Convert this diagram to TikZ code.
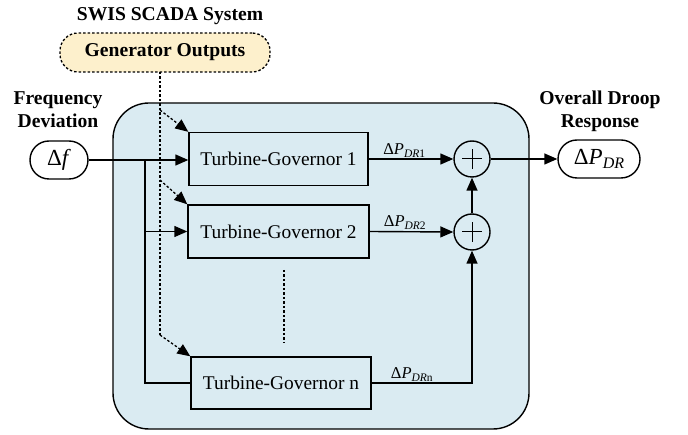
\documentclass[tikz,border=0pt]{standalone}
\usepackage{fontspec}
\setmainfont{Liberation Serif}
\usetikzlibrary{arrows.meta,shapes.misc}
\definecolor{bgblue}{HTML}{DAEBF2}
\definecolor{genyellow}{HTML}{FDF0CC}
\newcommand{\sigsub}[1]{\raisebox{-3pt}{\fontsize{11.5}{12}\selectfont #1}}
\newcommand{\outsub}[1]{\raisebox{-4.5pt}{\fontsize{16}{16}\selectfont #1}}
\begin{document}
\begin{tikzpicture}[x=1pt,y=-1pt,
  line width=1.4pt,
  blk/.style={draw, fill=bgblue, minimum width=180pt, minimum height=53pt, inner sep=0pt, font=\fontsize{19.4}{22}\selectfont},
  sumnode/.style={circle, draw, fill=bgblue, minimum size=36pt, inner sep=0pt,
    path picture={\draw[line width=1pt] ([xshift=-10pt]path picture bounding box.center) -- ([xshift=10pt]path picture bounding box.center)
                   ([yshift=-10pt]path picture bounding box.center) -- ([yshift=10pt]path picture bounding box.center);}},
  term/.style={rounded rectangle, draw, fill=white, minimum height=38pt, inner sep=4pt, font=\fontsize{23}{25}\selectfont},
  title/.style={font=\fontsize{19.6}{23}\selectfont\bfseries, align=center},
  sig/.style={font=\fontsize{16.5}{18}\selectfont, inner sep=1pt},
  arr/.style={-{Triangle[length=13pt,width=11pt]}},
  dsh/.style={dash pattern=on 2.5pt off 2pt, line width=1.3pt},
]
\useasboundingbox (0,0) rectangle (688,435);
% background panel
\draw[fill=bgblue, rounded corners=36pt] (113,103) rectangle (529,429);

% titles
\node[title] (swis) at (170,16) {SWIS SCADA System};
\node[title] (fd) at (58,110) {Frequency\\Deviation};
\node[title] (odr) at (600,111) {Overall Droop\\Response};

% generator outputs
\node[draw, dsh, fill=genyellow, rounded corners=18pt, minimum width=210pt, minimum height=39pt,
      font=\fontsize{19.6}{22}\selectfont\bfseries] (gen) at (165,52.5) {Generator Outputs};

% terminals
\node[term, minimum width=66pt] (df) at (59,160) {Δ\textit{f}};
\node[term, minimum width=90pt] (out) at (599,159) {Δ\textit{P}\outsub{\textit{DR}}};

% blocks
\node[blk, minimum width=179pt] (tg1) at (278.5,159) {Turbine-Governor 1};
\node[blk, minimum width=181pt] (tg2) at (278.5,231.5) {Turbine-Governor 2};
\node[blk, minimum width=180pt, minimum height=52pt] (tgn) at (281,383) {Turbine-Governor n};

% sums
\node[sumnode] (s1) at (472,159) {};
\node[sumnode] (s2) at (472,232) {};

% input distribution
\coordinate (br) at (145,160);
\draw[arr] (df.east) -- (tg1.west |- df.east);
\draw (br) |- (tgn.west);
\draw[arr] (br |- tg2.west) -- (tg2.west);

% generator output signals
\coordinate (gx) at (160,72);
\coordinate (g1) at (160,110);
\coordinate (g2) at (160,180);
\coordinate (gn) at (160,335);
\draw[dsh] (gx) -- (gn);
\draw[dsh, arr] (g1) -- (tg1.north west);
\draw[dsh, arr] (g2) -- (tg2.north west);
\draw[dsh, arr] (gn) -- (tgn.north west);

% ellipsis between blocks
\coordinate (e1) at (284,270);
\coordinate (e2) at (284,343);
\draw[dsh] (e1) -- (e2);

% outputs to sums
\draw[arr] (tg1.east) -- node[sig, above, pos=0.42] {Δ\textit{P}\sigsub{\textit{DR}1}} (s1.west);
\draw[arr] (tg2.east) -- node[sig, above, pos=0.42] {Δ\textit{P}\sigsub{\textit{DR}2}} (s2.west);
\draw[arr] (tgn.east) -| node[sig, above, pos=0.2] {Δ\textit{P}\sigsub{\textit{DR}n}} (s2.south);
\draw[arr] (s2.north) -- (s1.south);
\draw[arr] (s1.east) -- (out.west);
\end{tikzpicture}
\end{document}
